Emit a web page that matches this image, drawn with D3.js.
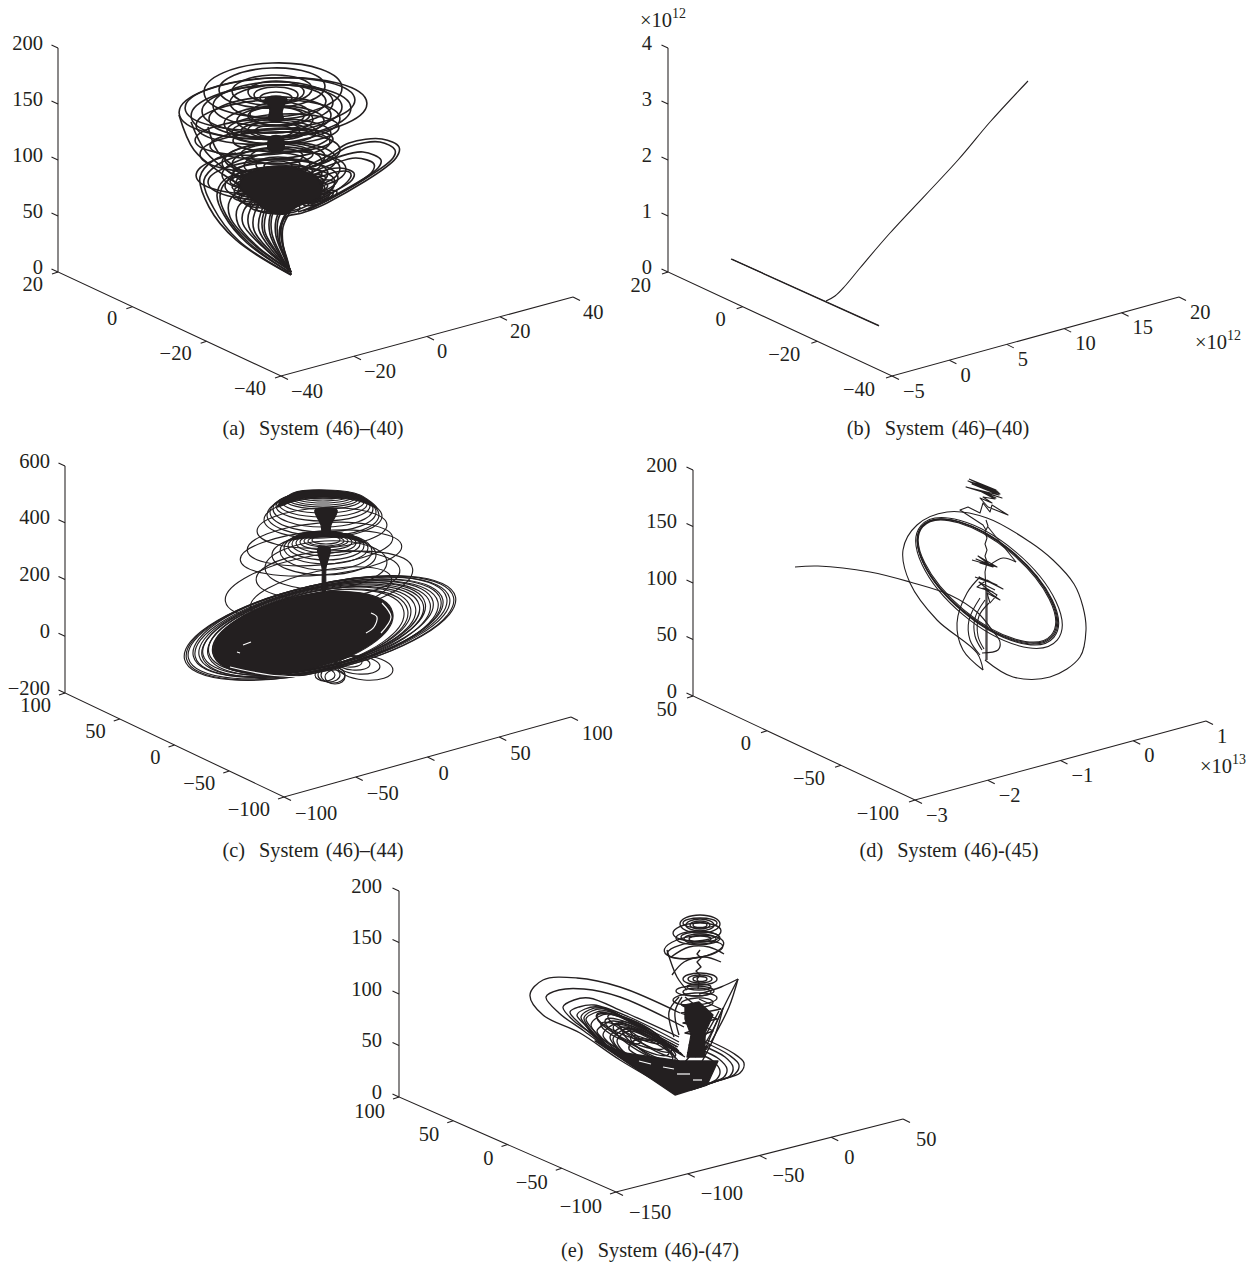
<!DOCTYPE html>
<html><head><meta charset="utf-8">
<style>html,body{margin:0;padding:0;background:#fff}svg{display:block}text{font-family:"Liberation Serif",serif;fill:#231f20}</style>
<script src="https://cdn.jsdelivr.net/npm/d3@7/dist/d3.min.js"></script>
</head><body><svg id="fig" width="1252" height="1266"></svg>
<script>
// ---------- tick values ----------
const zTicksA=[0,50,100,150,200], leftTicksA=[20,0,-20,-40], rightTicksA=[-40,-20,0,20,40];
const zTicksB=[0,1,2,3,4], leftTicksB=[20,0,-20,-40], rightTicksB=[-5,0,5,10,15,20];
const zTicksC=[-200,0,200,400,600], leftTicksC=[100,50,0,-50,-100], rightTicksC=[-100,-50,0,50,100];
const zTicksD=[0,50,100,150,200], leftTicksD=[50,0,-50,-100], rightTicksD=[-3,-2,-1,0,1];
const zTicksE=[0,50,100,150,200], leftTicksE=[100,50,0,-50,-100], rightTicksE=[-150,-100,-50,0,50];
const captions=["(a)  System (46)–(40)","(b)  System (46)–(40)","(c)  System (46)–(44)","(d)  System (46)-(45)","(e)  System (46)-(47)"];

// ---------- trajectories in each panel's projected view plane ----------
// loops: [centre u, centre v, half-width, half-height, tilt]
const loopsA=[[215,182,69,27,-2],[214,184,53,20,-2],[214,182,40,15,-2],[218,180,28,11,0],[218,177,22,8,0],[218,174,16,6,0],[218,172,11,4,0],[218,170,7,3,0],
[215,164,94,30,-3],[213,160,80,27,-3],[212,155,61,20,-2],[214,163,70,24,-2],[216,150,50,16,-2],[217,152,38,13,-1],[218,156,28,9,0],[215,168,60,22,-2],
[212,168,85,26,-3],[220,170,48,17,-1],[222,158,30,12,0],[210,150,72,22,-3],
[225,143,56,15,-2],[216,141,33,9,0],[216,141,19,6,0],[216,140,42,12,0],[216,142,26,8,0],[205,135,68,18,-3],[225,132,50,12,-1],[212,128,60,15,-2],[212,120,70,20,-2],
[221,111,57,19,-2],[219,109,45,16,-2],[219,107,33,12,-1],[220,107,22,8,0],[220,106,14,5,0],[217,114,50,15,-2],[219,118,36,10,0],[219,116,26,8,0],
[215,92,65,20,-2],[222,88,55,18,-2],[225,85,40,14,-2],[210,100,72,22,-3],[226,100,62,20,-3],[222,97,48,16,-2],
[215,100,40,9,0],[218,96,36,9,-2],[216,92,44,9,-2],[220,88,46,9,-4],[218,84,42,9,-4],[221,80,46,9,-6],[218,76,38,9,-4],[220,72,34,8,-4],[222,68,30,8,-4],[220,64,22,6,0],
[200,92,22,8,-6],[204,84,24,9,-8],[208,76,26,8,-8],[238,96,26,7,-6],[240,90,28,7,-8],[244,82,26,7,-10],
[262,74,18,5,-20],[262,74,14,3.5,-20],[262,74,10,2.5,-20],[262,84,34,10,-25]];
const pathsA=[[[178,119],[156,112],[142,95],[151,65],[178,32],[233,-3]],
[[181,116],[159,107],[146,92],[155,65],[181,31],[232,-2]],
[[186,100],[166,92],[159,77],[166,57],[189,29],[231,0]],
[[188,98],[168,90],[162,76],[168,57],[191,29],[231,0]],
[[195,90],[172,72],[172,55],[195,28],[231,2]],
[[200,80],[180,65],[180,48],[200,25],[231,3]],
[[205,80],[186,62],[185,48],[205,25],[232,3]],
[[210,80],[192,62],[191,45],[209,22],[232,3]],
[[213,80],[197,60],[196,42],[213,20],[232,2]],
[[216,80],[203,60],[201,42],[217,18],[232,1]],
[[218,78],[206,60],[205,40],[219,18],[232,1]],
[[220,80],[208,58],[207,40],[220,18],[233,0]],
[[222,75],[212,56],[212,38],[223,15],[233,0]],
[[224,75],[214,56],[214,38],[224,15],[233,0]],
[[226,70],[218,52],[218,36],[226,15],[233,0]],
[[228,68],[220,52],[220,34],[227,14],[233,0]],
[[230,60],[222,45],[222,30],[228,12],[233,0]],
[[230,62],[223,48],[224,30],[229,12],[233,-2]],
[[232,60],[225,45],[225,28],[230,10],[233,-3]],
[[233,-3],[226,22],[223,42],[228,55],[244,59],[269,69],[338,114],[341,125],[324,133],[291,129],[271,117],[241,102]],
[[240,60],[268,71],[335,114],[337,122],[322,130],[290,125],[268,112],[240,100]],
[[245,61],[268,72],[320,104],[323,112],[305,120],[280,115],[255,105]],
[[250,62],[270,72],[314,100],[316,108],[298,114],[275,108],[250,98]],
[[252,66],[268,76],[294,92],[296,99],[282,104],[262,100],[245,90]],
[[255,70],[275,84],[276,90],[262,92],[245,85]],
[[121,157],[136,122],[166,97],[191,82]],[[133,150],[148,120],[175,97],[195,85]],[[150,145],[160,120],[185,100]]];
const solidsA=[[[185,95],[210,105],[240,103],[262,90],[262,75],[240,66],[226,58],[212,60],[195,72],[182,85]],
[[209,173],[227,173],[224,160],[225,152],[211,152],[212,162]],
[[212,135],[224,135],[225,122],[211,122]]];

const pathsB=[[[63,13],[211,-54]],[[63.6,13],[211,-53.6]],
[[158,-29],[167,-24],[177,-14],[192,4],[222,39],[290,112],[322,150],[360,191]]];

const loopsC=[[254,108,95,30,-10],[256,100,72,22,-12],[263,118,72,24,-4],[261,128,61,24,-3],[256,140,81,22,-5],[255,149,73,21,-5],[257,165,65,20,-3],[258,175,59,20,-2],
[258,178,56,21,0],[258,181,53,20,0],[258,184,50,18,0],[258,187,47,15,0],[258,189,44,13,0],[258,191,41,11,0],[258,193,38,9,0],[258,194,35,8,0],[258,195,32,7,0],[258,196,29,6,0],[258,197,26,5,0],[258,198,23,4,0],[258,198,20,3,0],
[259,138,52,20,0],[261,142,46,19,0],[261,145,42,16,0],[261,147,38,14,0],[261,149,34,12,0],[261,150,30,10,0],[261,151,26,8,0],[261,152,22,6,0],[261,152,18,5,0],[261,153,14,4,0],
[255,65,139,43,-13],[255,65,137,43,-13],[254,65,134,42,-13],[255,66,130,42,-13],[254,65,127,41,-13],[255,65,124,41,-13],[255,64,121,41,-13],[253,65,118,40,-13],[254,64,114,40,-13],[252,65,111,39,-13],[253,64,108,39,-13],[252,64,105,38,-13],[251,63,102,38,-13],[250,63,98,38,-13],[250,62,95,37,-13],[249,62,92,37,-13],
[300,25,28,12,5],[293,28,22,9,5],[288,30,17,7,5],[283,32,14,6,5],[270,16,10,7,0],[268,18,12,8,0],[264,18,11,7,0],[260,18,10,6,0]];
const solidsC=[[[212,186],[228,200],[262,203],[295,198],[312,185],[292,193],[262,196],[232,193]],
[[225,153],[238,160],[262,161],[285,158],[300,150],[282,155],[262,156],[240,155]],
[[250,183],[272,183],[266,168],[264,158],[258,158],[256,168]],
[[253,145],[265,145],[261,125],[260,101],[258,101],[257,125]]];
const discC=[[238,60,92,37,-13]];
const whitesC=[[[165,26],[205,18],[250,16]],[[306,80],[312,76],[309,66],[301,60]],[[317,90],[326,76],[316,60]],[[178,48],[186,51]],[[172,41],[175,40]]];

const loopsD=[[294,115,85,38,40],[294.5,114.5,85.5,38.5,40],[295,114,86,39,40],[294,115,84,37,40],[296,113,89,41,40]];
const pathsD=[[[292,36],[320,19],[357,19],[387,39],[393,66],[390,89],[381,112],[360,136],[337,154],[294,178],[254,184],[224,171],[210,146],[217,113],[244,76],[284,43],[290,26]],
[[102,129],[125,130],[177,124],[217,114],[257,101],[285,83],[299,66],[307,54],[305,46],[289,43]],
[[290,26],[270,46],[264,73],[274,103],[287,119]],
[[287,41],[277,56],[276,76],[287,98]],[[289,46],[282,60],[282,78],[292,96]],[[291,47],[285,60],[286,80],[296,93]],
[[297,131],[310,138],[323,134]]];
const zigzagsD=[[[293,106],[293,36]],[[294,106],[294,36]],
[[293,176],[295,170],[292,164],[294,158],[292,152],[294,146],[292,140],[294,134],[292,124],[293,106]],
[[276,217],[303,206],[275,215],[304,205],[277,214],[306,203],[278,216],[305,204],[280,213],[307,202],[279,212],[306,201],[273,209],[309,198],[285,206],[303,198],[287,205],[302,197],[290,199],[299,193],[287,198],[295,189],[315,181],[299,191],[297,184],[290,193],[287,183],[275,189],[267,186],[290,171],[293,166]],
[[279,136],[304,129],[285,140],[300,129],[287,133],[297,131],[283,137],[301,130]],
[[282,119],[304,111],[286,119],[310,107],[294,116],[284,109],[300,104],[290,108],[307,96],[294,103],[297,93],[304,101],[293,108],[286,114],[302,106]],
[[295,169],[323,134]]];

const loopsE=[[301,173,20,9,0],[301,172,14,6,0],[301,172,10,4,0],[301,172,7,2.5,0],[301,174,17,5,0],[299,159,22,7,0],[301,158,16,5,0],[301,158,11,3,0],[301,160,19,5,0],[296,147,28,8,-8],[295,150,30,11,-8],[298,165,24,9,-3],
[301,118,17,6,0],[301,118,12,4,0],[301,118,7,2.5,0],[296,106,19,5,0],[298,105,14,4,0],[300,110,12,3,0],[296,98,22,6,-3],[298,94,16,5,-3],
[232,66,38,10,25],[238,60,36,9,28],[244,54,34,9,30],[226,70,30,8,22],[250,52,30,8,30],[256,46,28,7,30],[222,64,22,6,25],[236,68,30,7,26],[246,60,30,7,28],[254,54,26,6,30]];
const pathsE=[[[268,147],[278,120],[288,107]],[[272,140],[290,150],[310,150],[325,143]],[[273,122],[285,135],[305,140],[322,135]],[[280,100],[270,85],[275,60]],[[283,100],[276,85],[280,62]],
[[281,84],[221,110],[178,119],[144,117],[131,102],[144,82],[181,64],[221,37],[278,4]],
[[285,70],[221,100],[185,108],[160,107],[147,100],[160,84],[185,66],[225,37],[278,4]],
[[280,60],[225,85],[190,99],[175,97],[164,90],[175,76],[195,62],[230,35],[278,4]],
[[280,55],[230,80],[195,92],[180,90],[171,85],[180,74],[198,58],[230,34],[278,4]],
[[280,52],[232,76],[200,90],[186,88],[178,82],[186,72],[200,56],[232,33],[278,4]],
[[278,50],[234,74],[204,89],[190,87],[182,80],[190,68],[204,54],[234,32],[278,4]],
[[279,50],[236,73],[206,88],[193,86],[185,79],[192,67],[206,53],[235,32],[278,4]],
[[278,48],[238,72],[208,86],[195,84],[187,78],[195,66],[208,52],[236,31],[278,4]],
[[279,47],[240,70],[211,83],[199,80],[192,72],[199,62],[212,51],[237,31],[278,4]],
[[278,46],[240,68],[214,76],[204,72],[198,66],[204,58],[216,50],[238,30],[278,4]],
[[280,46],[244,66],[220,74],[210,70],[204,62],[210,54],[222,46],[240,30],[278,4]],
[[282,44],[248,62],[226,70],[216,66],[211,60],[217,50],[228,42],[244,28],[278,4]],
[[283,43],[250,60],[229,68],[219,64],[214,58],[220,48],[231,41],[246,27],[278,4]],
[[284,42],[252,58],[232,66],[222,62],[218,56],[224,46],[234,40],[248,26],[278,4]],
[[286,40],[256,56],[240,58],[232,54],[230,48],[238,42],[250,34],[262,20],[280,4]],
[[339,118],[320,80],[305,45]],[[339,118],[322,110],[300,103]],[[339,118],[330,90],[312,55]],[[324,89],[310,60],[296,40]],[[324,89],[316,62],[300,30]],[[320,86],[304,58],[286,35]],
[[308,57],[334,44],[345,34],[341,24],[321,17],[301,10]],[[305,55],[330,42],[340,32],[336,23],[318,16],[299,10]],[[302,52],[326,40],[334,30],[331,21],[315,15],[297,9]],[[300,48],[320,38],[328,28],[325,20],[311,14],[295,8]],[[298,44],[314,36],[321,26],[318,18],[306,12],[292,7]]];
const zigzagsE=[[[301,147],[298,143],[302,139],[298,135],[302,130],[297,126],[301,122],[298,118],[300,114],[299,108]],
[[286,100],[296,92],[283,92],[298,86],[282,84],[300,78],[284,74],[304,70],[286,64],[306,60],[290,52],[308,48],[288,44]],
[[300,98],[322,88],[302,84],[318,78],[300,74],[314,66],[298,60],[312,52],[296,46]]];
const blocksE=[[[196,56],[276,2],[308,12],[319,36],[281,36],[226,44]],[[286,92],[300,95],[314,82],[306,64],[306,40],[288,40],[292,62],[286,78]]];
const whitesE=[[[278,23],[291,23]],[[294,17],[303,17]],[[264,30],[275,28]],[[240,36],[252,33]]];

// ---------- panel frames ----------
const panels=[
 {z:zTicksA,l:leftTicksA,r:rightTicksA,x0:58,top:48,bot:272,cx:281,cy:376,ex:573,ey:297,zEnd:15,lEnd:15,lDy:12,rStart:10,rDy:15,capX:313,capY:430,sw:1.6,loops:loopsA,paths:pathsA,solids:solidsA},
 {z:zTicksB,l:leftTicksB,r:rightTicksB,x0:668,top:48,bot:272,cx:892,cy:376,ex:1179,ey:297,zEnd:16,lEnd:17,lDy:13,rStart:11,rDy:15,capX:938,capY:430,sw:1.1,paths:pathsB,zExp:[640,20,"12"],rExp:[1195,342,"12"]},
 {z:zTicksC,l:leftTicksC,r:rightTicksC,x0:65,top:466,bot:693,cx:284,cy:797,ex:571,ey:717,zEnd:15,lEnd:14,lDy:12,rStart:11,rDy:16,capX:313,capY:852,sw:1.15,loops:loopsC,solids:solidsC,discs:discC,whites:whitesC},
 {z:zTicksD,l:leftTicksD,r:rightTicksD,x0:693,top:470,bot:696,cx:915,cy:800,ex:1206,ey:721,zEnd:16,lEnd:16,lDy:13,rStart:11,rDy:15,capX:949,capY:852,sw:1.1,loops:loopsD,paths:pathsD,zigzags:zigzagsD,rExp:[1200,766,"13"]},
 {z:zTicksE,l:leftTicksE,r:rightTicksE,x0:399,top:891,bot:1097,cx:616,cy:1192,ex:903,ey:1119,zEnd:17,lEnd:14,lDy:14,rStart:13,rDy:20,capX:650,capY:1252,sw:1.35,loops:loopsE,paths:pathsE,zigzags:zigzagsE,blocks:blocksE,whites:whitesE}
];
const ink="#231f20", tickSize=20.5, capSize=20.3, svg=d3.select("#fig");
const fmt=v=>String(v).replace("-","\u2212");
const smooth=d3.line().curve(d3.curveCatmullRom.alpha(.5));
const straight=d3.line();
const closed=d3.line().curve(d3.curveCatmullRomClosed.alpha(.5));
const polygon=d3.line().curve(d3.curveLinearClosed);

panels.forEach((p,i)=>{
 const g=svg.append("g");
 const zS=d3.scaleLinear().domain(d3.extent(p.z)).range([p.bot,p.top]);
 const lD=[p.l[0],p.l[p.l.length-1]], rD=[p.r[0],p.r[p.r.length-1]];
 const lX=d3.scaleLinear().domain(lD).range([p.x0,p.cx]), lY=d3.scaleLinear().domain(lD).range([p.bot,p.cy]);
 const rX=d3.scaleLinear().domain(rD).range([p.cx,p.ex]), rY=d3.scaleLinear().domain(rD).range([p.cy,p.ey]);
 const axisG=g.append("g").attr("stroke",ink).attr("stroke-width",1.05).attr("fill","none");
 axisG.append("path").attr("d",`M${p.x0},${p.top}L${p.x0},${p.bot}L${p.cx},${p.cy}L${p.ex},${p.ey}`);
 axisG.selectAll(".z").data(p.z).join("line").attr("x1",p.x0).attr("y1",zS).attr("x2",p.x0-6.5).attr("y2",d=>zS(d)-3);
 axisG.selectAll(".l").data(p.l).join("line").attr("x1",lX).attr("y1",lY).attr("x2",d=>lX(d)-6).attr("y2",d=>lY(d)+2);
 axisG.selectAll(".r").data(p.r).join("line").attr("x1",rX).attr("y1",rY).attr("x2",d=>rX(d)+7).attr("y2",d=>rY(d)+3.5);
 const lab=g.append("g").attr("font-size",tickSize);
 lab.selectAll(".zt").data(p.z).join("text").attr("text-anchor","end").attr("x",p.x0-p.zEnd).attr("y",d=>zS(d)+1.5).text(fmt);
 lab.selectAll(".lt").data(p.l).join("text").attr("text-anchor","end").attr("x",d=>lX(d)-p.lEnd).attr("y",d=>lY(d)+p.lDy+6.5).text(fmt);
 lab.selectAll(".rt").data(p.r).join("text").attr("x",d=>rX(d)+p.rStart).attr("y",d=>rY(d)+p.rDy+6.5).text(fmt);
 [p.zExp,p.rExp].filter(Boolean).forEach(e=>{
  const t=lab.append("text").attr("x",e[0]).attr("y",e[1]+7);
  t.append("tspan").text("\u00d710");
  t.append("tspan").attr("dy",-9).attr("font-size",14).text(e[2]);
 });
 g.append("text").attr("x",p.capX).attr("y",p.capY+5).attr("text-anchor","middle").attr("font-size",capSize).attr("word-spacing",2).style("white-space","pre").text(captions[i]);
 const u=d3.scaleLinear().domain([0,100]).range([p.x0,p.x0+100]);
 const v=d3.scaleLinear().domain([0,100]).range([p.bot,p.bot-100]);
 const xy=pts=>pts.map(d=>[u(d[0]),v(d[1])]);
 const c=g.append("g").attr("fill","none").attr("stroke",ink).attr("stroke-width",p.sw).attr("stroke-linejoin","round");
 const ring=(sel,fill)=>sel.join("ellipse").attr("cx",d=>u(d[0])).attr("cy",d=>v(d[1])).attr("rx",d=>u(d[2])-u(0)).attr("ry",d=>v(0)-v(d[3])).attr("fill",fill)
   .attr("transform",d=>`rotate(${d[4]} ${u(d[0])} ${v(d[1])})`);
 ring(c.append("g").selectAll("ellipse").data(p.loops||[]),"none");
 ring(c.append("g").selectAll("ellipse").data(p.discs||[]),ink);
 c.append("g").selectAll("path").data(p.paths||[]).join("path").attr("d",d=>smooth(xy(d)));
 c.append("g").selectAll("path").data(p.zigzags||[]).join("path").attr("d",d=>straight(xy(d)));
 c.append("g").selectAll("path").data(p.solids||[]).join("path").attr("fill",ink).attr("d",d=>closed(xy(d)));
 c.append("g").selectAll("path").data(p.blocks||[]).join("path").attr("fill",ink).attr("d",d=>polygon(xy(d)));
 c.append("g").attr("stroke","#fff").attr("stroke-width",1.2).selectAll("path").data(p.whites||[]).join("path").attr("d",d=>smooth(xy(d)));
});
</script></body></html>
